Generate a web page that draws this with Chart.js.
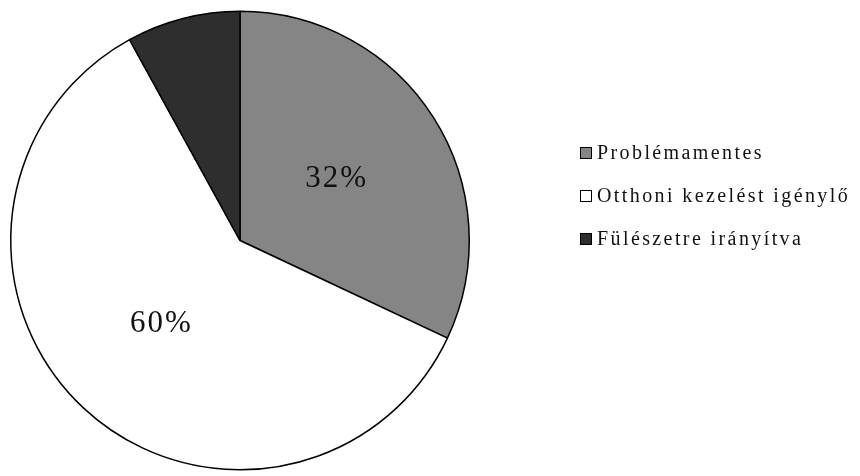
<!DOCTYPE html>
<html>
<head>
<meta charset="utf-8">
<script src="https://cdn.jsdelivr.net/npm/chart.js@4/dist/chart.umd.min.js"></script>
<style>
  html, body { margin: 0; padding: 0; background: #fff; }
  #wrap { position: relative; width: 860px; height: 476px; }
  #legend { position: absolute; left: 580px; top: 131px; font-family: "Liberation Serif", "Times New Roman", serif; font-size: 20px; letter-spacing: 2.4px; color: #111; }
  .item { height: 43px; display: flex; align-items: center; white-space: nowrap; }
  .box { width: 12px; height: 12px; border: 1px solid #000; margin-right: 5px; box-sizing: border-box; }
</style>
</head>
<body>
<div id="wrap">
  <canvas id="c" width="860" height="476"></canvas>
  <div id="legend"></div>
</div>
<script>
const categories = ["Problémamentes", "Otthoni kezelést igénylő", "Fülészetre irányítva"];
const values = [32, 60, 8];
const sliceColors = ["#858585", "#ffffff", "#2e2e2e"];

const labelPlugin = {
  id: 'sliceLabels',
  afterDatasetsDraw(chart) {
    const ctx = chart.ctx;
    const meta = chart.getDatasetMeta(0);
    const data = chart.data.datasets[0].data;
    const total = data.reduce((a, b) => a + b, 0);
    ctx.save();
    ctx.font = '31px "Liberation Serif", serif';
    ctx.letterSpacing = '2px';
    ctx.textAlign = 'center';
    ctx.textBaseline = 'middle';
    meta.data.forEach((arc, i) => {
      const pct = Math.round(data[i] / total * 100);
      if (pct < 10) return;
      const p = arc.tooltipPosition();
      ctx.fillStyle = '#111';
      ctx.fillText(pct + '%', p.x, p.y);
    });
    ctx.restore();
  }
};

new Chart(document.getElementById('c'), {
  type: 'pie',
  data: {
    labels: categories,
    datasets: [{
      data: values,
      backgroundColor: sliceColors,
      borderColor: '#000',
      borderWidth: 1.5
    }]
  },
  options: {
    responsive: false,
    animation: false,
    layout: { padding: { left: 10, right: 390, top: 9, bottom: 4 } },
    plugins: { legend: { display: false }, tooltip: { enabled: false } }
  },
  plugins: [labelPlugin]
});

const legend = document.getElementById('legend');
categories.forEach((name, i) => {
  const row = document.createElement('div');
  row.className = 'item';
  const box = document.createElement('span');
  box.className = 'box';
  box.style.background = sliceColors[i];
  const txt = document.createElement('span');
  txt.textContent = name;
  row.appendChild(box);
  row.appendChild(txt);
  legend.appendChild(row);
});
</script>
</body>
</html>
